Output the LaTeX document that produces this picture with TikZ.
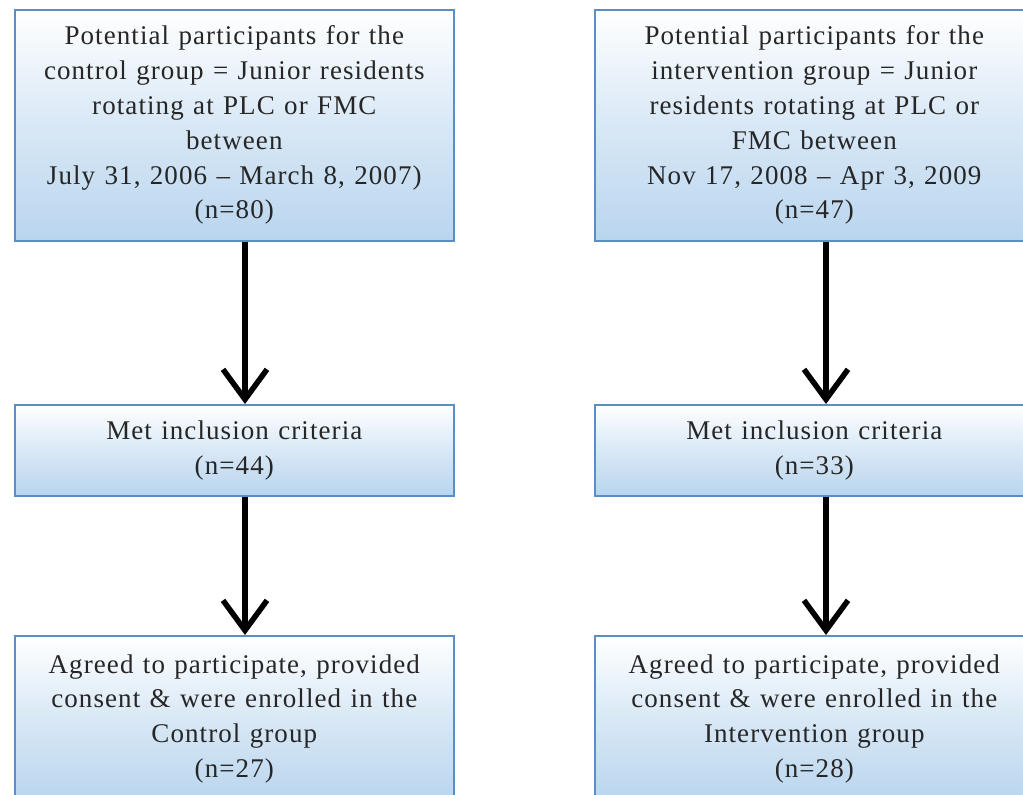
\documentclass[tikz,border=0pt]{standalone}
\usepackage{fontspec}
\setmainfont{Liberation Serif}[LetterSpace=4,WordSpace=1.2]
\usetikzlibrary{arrows.meta}
\definecolor{boxblue}{HTML}{B9D5EE}
\definecolor{edgeblue}{HTML}{5B8EC4}
\tikzset{
  box/.style={draw=edgeblue, line width=1.6pt, top color=white, bottom color=boxblue,
    middle color=boxblue!55, align=center, anchor=north west, inner sep=0pt,
    font=\fontsize{27}{34.8}\selectfont, text=black!85},
  flow/.style={line width=5.5pt, -{Straight Barb[length=30pt,width=44pt]}}
}
\begin{document}
\begin{tikzpicture}[x=1pt,y=1pt]
\useasboundingbox (0,0) rectangle (1023,-795);
\clip (0,0) rectangle (1023,-795);
\node[box, minimum width=439pt, minimum height=231pt] (c1) at (14,-9) {Potential participants for the\\control group = Junior residents\\rotating at PLC or FMC\\between\\July 31, 2006 -- March 8, 2007)\\(n=80)};
\node[box, minimum width=439pt, minimum height=231pt] (i1) at (594,-9) {Potential participants for the\\intervention group = Junior\\residents rotating at PLC or\\FMC between\\Nov 17, 2008 -- Apr 3, 2009\\(n=47)};
\node[box, minimum width=439pt, minimum height=91pt] (c2) at (14,-404) {Met inclusion criteria\\(n=44)};
\node[box, minimum width=439pt, minimum height=91pt] (i2) at (594,-404) {Met inclusion criteria\\(n=33)};
\node[box, minimum width=439pt, minimum height=166pt] (c3) at (14,-635) {Agreed to participate, provided\\consent \& were enrolled in the\\Control group\\(n=27)};
\node[box, minimum width=439pt, minimum height=166pt] (i3) at (594,-635) {Agreed to participate, provided\\consent \& were enrolled in the\\Intervention group\\(n=28)};
\coordinate (a) at (245,0);
\coordinate (b) at (826,0);
\draw[flow] (c1.south -| a) -- (c2.north -| a);
\draw[flow] (c2.south -| a) -- (c3.north -| a);
\draw[flow] (i1.south -| b) -- (i2.north -| b);
\draw[flow] (i2.south -| b) -- (i3.north -| b);
\end{tikzpicture}
\end{document}
